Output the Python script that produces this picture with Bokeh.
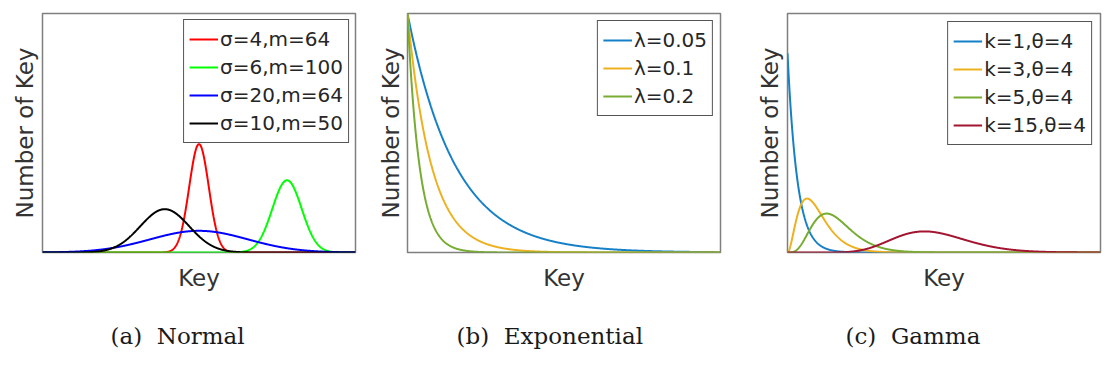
import math
import numpy as np
from bokeh.plotting import figure
from bokeh.layouts import row
from bokeh.models import Legend, LegendItem, Title, FixedTicker, Range1d
from bokeh.embed import file_html
from bokeh.resources import INLINE

# ---------------- data ----------------
key_max = 128
normal_sigma = [4, 6, 20, 10]
normal_mean = [64, 100, 64, 50]
normal_labels = ["σ=4,m=64", "σ=6,m=100", "σ=20,m=64", "σ=10,m=50"]
normal_colors = ["#ff0000", "#00ff00", "#0000ff", "#000000"]

exp_key_max = 132
exp_lambda = [0.05, 0.1, 0.2]
exp_labels = ["λ=0.05", "λ=0.1", "λ=0.2"]
exp_colors = ["#1580C8", "#EDB120", "#77AC30"]

gamma_k = [1, 3, 5, 15]
gamma_theta = [4, 4, 4, 4]
gamma_labels = ["k=1,θ=4", "k=3,θ=4", "k=5,θ=4", "k=15,θ=4"]
gamma_colors = ["#1580C8", "#EDB120", "#77AC30", "#A2142F"]

captions = ["(a)\u00a0\u00a0Normal", "(b)\u00a0\u00a0Exponential", "(c)\u00a0\u00a0Gamma"]
x_label = "Key"
y_label = "Number of Key"

SANS = "DejaVu Sans"
SERIF = "DejaVu Serif"
TXT = "#333333"


def make_fig(xmax, ymax, bl, br, ystand, caption, cap_offset):
    p = figure(width=372, height=375, x_range=Range1d(0, xmax), y_range=Range1d(0, ymax),
               output_backend="svg", toolbar_location=None,
               min_border_left=bl, min_border_right=br, min_border_top=13, min_border_bottom=123)
    p.grid.visible = False
    for ax in (p.xaxis[0], p.yaxis[0]):
        ax.ticker = FixedTicker(ticks=[])
        ax.axis_line_color = None
        ax.major_tick_line_color = None
        ax.minor_tick_line_color = None
        ax.major_tick_out = 0
        ax.major_tick_in = 0
        ax.major_label_standoff = 0
        ax.axis_label_text_font = SANS
        ax.axis_label_text_font_size = "23px"
        ax.axis_label_text_font_style = "normal"
        ax.axis_label_text_color = TXT
    p.xaxis.axis_label = x_label
    p.yaxis.axis_label = y_label
    p.xaxis.axis_label_standoff = 12
    p.yaxis.axis_label_standoff = ystand
    p.outline_line_color = "#7f7f7f"
    p.outline_line_width = 1.5
    p.outline_line_alpha = 1.0
    t = Title(text=caption, align="left", offset=cap_offset, text_font=SERIF,
              text_font_size="23px", text_font_style="normal", text_color="#1a1a1a", standoff=54)
    p.add_layout(t, "below")
    return p


def add_legend(p, items, margin):
    lg = Legend(items=items, location="top_right", label_text_font=SANS, label_text_font_size="20px",
                label_text_color="#262626", glyph_width=29, glyph_height=28, label_height=28,
                label_standoff=2, spacing=0, padding=5, margin=margin,
                border_line_color="#555555", border_line_width=1.5, border_line_alpha=1.0,
                background_fill_color="white", background_fill_alpha=1.0)
    p.add_layout(lg)


# ---------------- (a) Normal ----------------
x = np.linspace(0, key_max, 1201)
p1 = make_fig(key_max, 0.22, 42, 17, 5, captions[0], 68)
items = []
for s, m, lab, c in zip(normal_sigma, normal_mean, normal_labels, normal_colors):
    y = np.exp(-0.5 * ((x - m) / s) ** 2) / (s * math.sqrt(2 * math.pi))
    r = p1.line(x, y, line_color=c, line_width=2)
    items.append(LegendItem(label=lab, renderers=[r]))
add_legend(p1, items, 6)

# ---------------- (b) Exponential ----------------
xe = np.linspace(0, exp_key_max, 1201)
p2 = make_fig(exp_key_max, 1.0, 35, 24, 4, captions[1], 49)
items = []
for lam, lab, c in zip(exp_lambda, exp_labels, exp_colors):
    y = np.exp(-lam * xe)
    r = p2.line(xe, y, line_color=c, line_width=2)
    items.append(LegendItem(label=lab, renderers=[r]))
add_legend(p2, items, 7)

# ---------------- (c) Gamma ----------------
p3 = make_fig(key_max, 0.3, 43, 16, 5, captions[2], 58)
items = []
for k, th, lab, c in zip(gamma_k, gamma_theta, gamma_labels, gamma_colors):
    y = x ** (k - 1) * np.exp(-x / th) / (math.gamma(k) * th ** k)
    r = p3.line(x, y, line_color=c, line_width=2)
    items.append(LegendItem(label=lab, renderers=[r]))
add_legend(p3, items, 8)

layout = row(p1, p2, p3, spacing=0)
open("out.html", "w").write(file_html(layout, INLINE))
